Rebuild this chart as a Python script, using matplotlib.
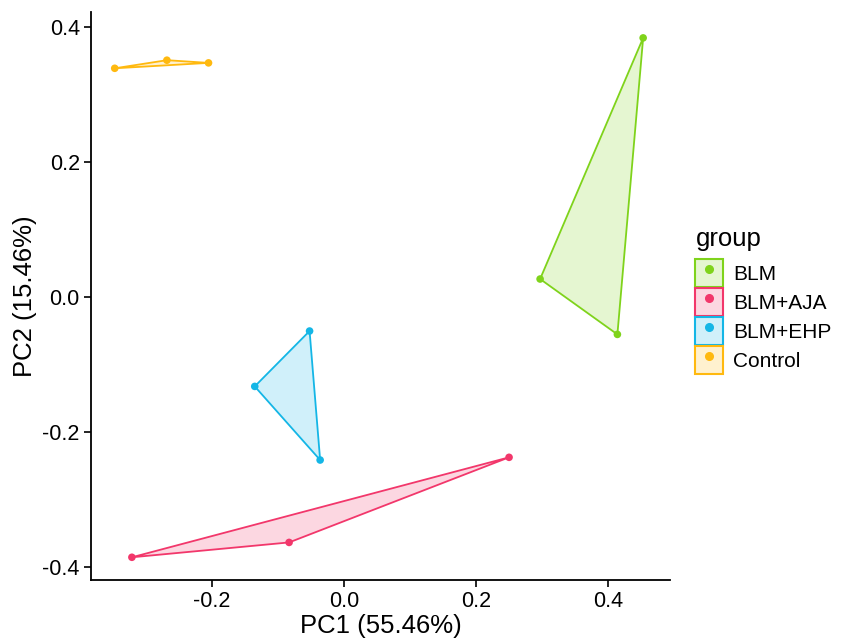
import matplotlib
matplotlib.use("Agg")
import matplotlib.pyplot as plt
from matplotlib.patches import Polygon, Patch
from matplotlib.lines import Line2D
from matplotlib.legend_handler import HandlerTuple

plt.rcParams['font.family'] = ['Liberation Sans', 'DejaVu Sans']

groups = ['BLM', 'BLM+AJA', 'BLM+EHP', 'Control']
colors = ['#7FD31B', '#F2376B', '#14B6E6', '#FFB90F']
pc1 = {
    'BLM': [0.453, 0.297, 0.414],
    'BLM+AJA': [0.250, -0.321, -0.083],
    'BLM+EHP': [-0.052, -0.135, -0.036],
    'Control': [-0.347, -0.268, -0.205],
}
pc2 = {
    'BLM': [0.384, 0.027, -0.055],
    'BLM+AJA': [-0.237, -0.385, -0.363],
    'BLM+EHP': [-0.050, -0.132, -0.241],
    'Control': [0.339, 0.351, 0.347],
}

fig = plt.figure(figsize=(8.42, 6.44), dpi=100)
ax = fig.add_axes([0.108, 0.099, 0.688, 0.882])

for g, c in zip(groups, colors):
    pts = list(zip(pc1[g], pc2[g]))
    ax.add_patch(Polygon(pts, closed=True, facecolor=c, alpha=0.2, edgecolor='none'))
    ax.add_patch(Polygon(pts, closed=True, facecolor='none', edgecolor=c, lw=1.3))
    ax.scatter(pc1[g], pc2[g], s=30, color=c, zorder=3, edgecolors='none')

ax.set_xlim(-0.383, 0.494)
ax.set_ylim(-0.419, 0.422)
ax.set_xticks([-0.2, 0.0, 0.2, 0.4])
ax.set_yticks([-0.4, -0.2, 0.0, 0.2, 0.4])
ax.set_xticklabels(['-0.2', '0.0', '0.2', '0.4'])
ax.set_yticklabels(['-0.4', '-0.2', '0.0', '0.2', '0.4'])
for s in ['top', 'right']:
    ax.spines[s].set_visible(False)
for s in ['left', 'bottom']:
    ax.spines[s].set_linewidth(1.3)
ax.tick_params(direction='out', length=5, width=1.2, labelsize=15.5, colors='black', pad=3)
ax.set_xlabel('PC1 (55.46%)', fontsize=18.5, labelpad=1)
ax.set_ylabel('PC2 (15.46%)', fontsize=18.5, labelpad=4)

handles = []
for c in colors:
    handles.append((Patch(facecolor=c, alpha=0.2, edgecolor='none'),
                    Patch(facecolor='none', edgecolor=c, lw=1.5),
                    Line2D([], [], marker='o', color=c, ls='none', markersize=5.5)))
leg = fig.legend(handles, groups, handler_map={tuple: HandlerTuple(ndivide=1, pad=0)},
                 loc='upper left', bbox_to_anchor=(0.826, 0.648), frameon=False,
                 title='group', fontsize=15, title_fontsize=18.5,
                 handlelength=1.3, handleheight=1.67, labelspacing=0.06, handletextpad=0.5,
                 borderaxespad=0, borderpad=0)
leg._legend_box.align = 'left'
leg._legend_box.sep = 6

fig.savefig('out.png', dpi=100)
